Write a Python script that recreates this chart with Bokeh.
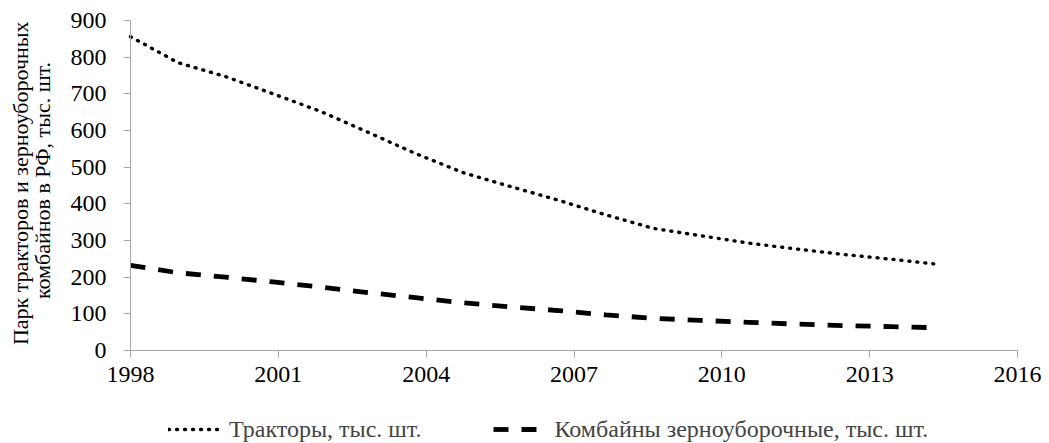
from bokeh.plotting import figure
from bokeh.models import Range1d, FixedTicker, Legend, LegendItem, Label
from bokeh.embed import file_html
from bokeh.resources import INLINE

years = list(range(1998, 2016))
tractors = [856, 785, 747, 700, 652, 595, 537, 485, 447, 410, 370, 333, 313, 293, 277, 262, 249, 235]
combines = [232, 212, 200, 187, 173, 158, 144, 130, 119, 109, 97, 88, 82, 77, 72, 68, 65, 62]
x_ticks = [1998, 2001, 2004, 2007, 2010, 2013, 2016]
y_ticks = [0, 100, 200, 300, 400, 500, 600, 700, 800, 900]
label_tr = "Тракторы, тыс. шт."
label_cb = "Комбайны зерноуборочные, тыс. шт."
y_label_1 = "Парк тракторов и  зерноуборочных"
y_label_2 = "комбайнов в РФ, тыс. шт."

FONT = "Liberation Serif"

# The frame covers the whole canvas; both axes are pinned inside it.
p = figure(width=1045, height=443, output_backend="svg", toolbar_location=None,
           x_range=Range1d(1995.362, 2016.568), y_range=Range1d(-253.6, 954.55),
           min_border=0)
p.extra_x_ranges = {"data": Range1d(1995.265, 2017.251)}
p.outline_line_color = None
p.grid.visible = False

r1 = p.line(years, tractors, x_range_name="data", line_color="black", line_width=3.4,
            line_dash="1 7", line_cap="round")
r2 = p.line(years, combines, x_range_name="data", line_color="black", line_width=4.8,
            line_dash="15 13", line_cap="butt")

for ax in (p.xaxis[0], p.yaxis[0]):
    ax.axis_line_color = "#a6a6a6"
    ax.major_tick_line_color = "#a6a6a6"
    ax.minor_tick_line_color = None
    ax.major_tick_out = 7
    ax.major_tick_in = 0
    ax.major_label_text_font = FONT
    ax.major_label_text_font_size = "24px"
    ax.major_label_text_color = "black"

p.xaxis.fixed_location = 0
p.xaxis.bounds = (1998, 2016)
p.yaxis.fixed_location = 1998
p.yaxis.bounds = (0, 900)
p.xaxis.ticker = FixedTicker(ticks=x_ticks)
p.yaxis.ticker = FixedTicker(ticks=y_ticks)
p.xaxis.major_label_standoff = 9
p.yaxis.major_label_standoff = 17

for txt, sx in ((y_label_1, 20), (y_label_2, 42)):
    p.add_layout(Label(x=sx, y=263, x_units="screen", y_units="screen", text=txt,
                       angle=90, angle_units="deg", text_align="center",
                       text_baseline="middle", text_font=FONT, text_font_size="22px",
                       text_color="black"))

legend = Legend(items=[LegendItem(label=label_tr, renderers=[r1]),
                       LegendItem(label=label_cb, renderers=[r2])],
                orientation="horizontal", location=(168, 0))
legend.border_line_color = None
legend.background_fill_alpha = 0
legend.padding = 0
legend.margin = 0
legend.label_height = 28
legend.label_text_font = FONT
legend.label_text_font_size = "24px"
legend.glyph_width = 52
legend.spacing = 72
legend.label_standoff = 9
p.add_layout(legend, "center")

open("out.html", "w").write(file_html(p, INLINE))
